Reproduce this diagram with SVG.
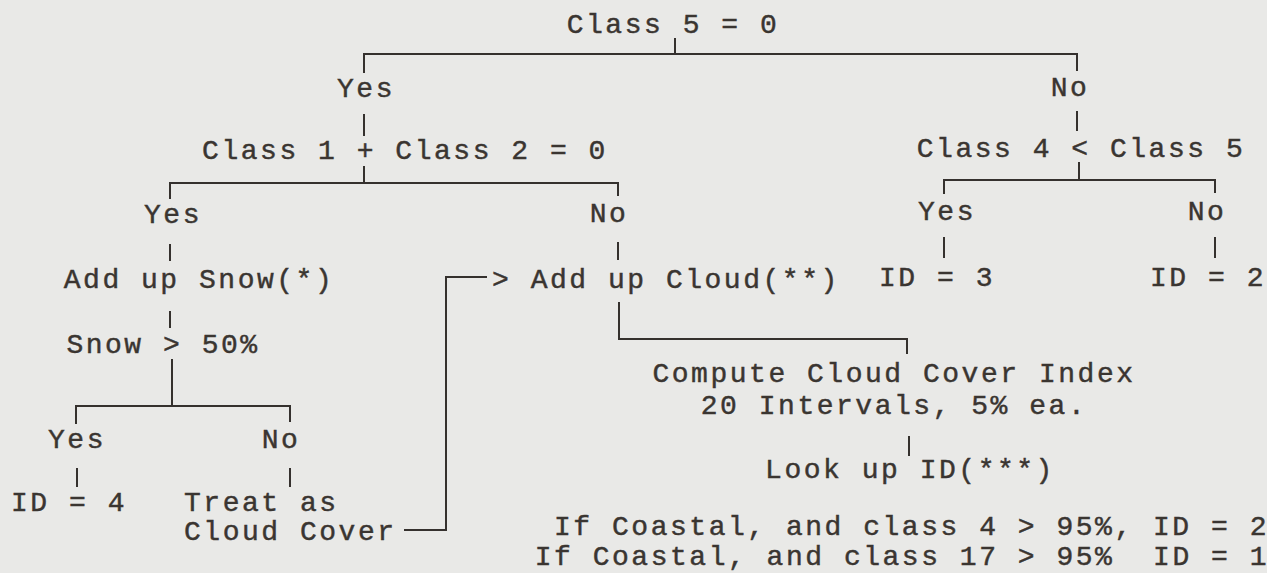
<svg xmlns="http://www.w3.org/2000/svg" width="1267" height="573" viewBox="0 0 1267 573">
  <style>
    .t { font-family: "Liberation Mono", "DejaVu Sans Mono", monospace; font-size: 28px; letter-spacing: 2.52px; white-space: pre; fill: #3a3531; stroke: #3a3531; stroke-width: 0.45px; }
    .m { text-anchor: middle; }
    .e { text-anchor: end; }
    .ln { fill: none; stroke: #35312e; stroke-width: 2; stroke-linecap: square; }
  </style>
  <rect width="1267" height="573" fill="#e9e9e7"/>

  <!-- tree connectors -->
  <g id="connectors" class="ln">
    <path d="M675,39 V54"/>
    <path d="M364,72 V54 H1077 V70"/>
    <path d="M364,115 V135"/>
    <path d="M364,167 V183"/>
    <path d="M1077,112 V130"/>
    <path d="M1079,163 V180"/>
    <path d="M170,198 V183 H618 V195"/>
    <path d="M944,193 V180 H1215 V192"/>
    <path d="M170,245 V260"/>
    <path d="M618,243 V259"/>
    <path d="M944,238 V257"/>
    <path d="M1215,238 V257"/>
    <path d="M170,312 V327"/>
    <path d="M172,360 V406"/>
    <path d="M76,423 V406 H290 V421"/>
    <path d="M77,469 V486"/>
    <path d="M290,469 V486"/>
    <path d="M405,530 H446 V277 H486"/>
    <path d="M619,303 V339 H907 V353"/>
    <path d="M909,437 V455"/>
  </g>

  <g id="n-class5"><text class="t m" x="673" y="33">Class 5 = 0</text></g>
  <g id="n-yes1"><text class="t m" x="366" y="97">Yes</text></g>
  <g id="n-no1"><text class="t m" x="1070" y="96">No</text></g>
  <g id="n-class12"><text class="t m" x="405" y="159">Class 1 + Class 2 = 0</text></g>
  <g id="n-class4"><text class="t m" x="1081" y="157">Class 4 &lt; Class 5</text></g>
  <g id="n-yes2"><text class="t m" x="173" y="223">Yes</text></g>
  <g id="n-no2"><text class="t m" x="609" y="222">No</text></g>
  <g id="n-yes3"><text class="t m" x="947" y="220">Yes</text></g>
  <g id="n-no3"><text class="t m" x="1207" y="220">No</text></g>
  <g id="n-snow"><text class="t m" x="199" y="288">Add up Snow(*)</text></g>
  <g id="n-cloud"><text class="t" x="492" y="288">&gt; Add up Cloud(**)</text></g>
  <g id="n-id3"><text class="t m" x="937" y="286">ID = 3</text></g>
  <g id="n-id2"><text class="t m" x="1208" y="286">ID = 2</text></g>
  <g id="n-snow50"><text class="t m" x="163" y="353">Snow &gt; 50%</text></g>
  <g id="n-compute">
    <text class="t m" x="894" y="382">Compute Cloud Cover Index</text>
    <text class="t m" x="894" y="414">20 Intervals, 5% ea.</text>
  </g>
  <g id="n-yes4"><text class="t m" x="77" y="448">Yes</text></g>
  <g id="n-no4"><text class="t m" x="281" y="448">No</text></g>
  <g id="n-lookup"><text class="t m" x="910" y="478">Look up ID(***)</text></g>
  <g id="n-id4"><text class="t m" x="69" y="511">ID = 4</text></g>
  <g id="n-treat">
    <text class="t" x="184" y="511">Treat as</text>
    <text class="t" x="184" y="540">Cloud Cover</text>
  </g>
  <g id="n-coastal">
    <text class="t e" x="1269" y="535">If Coastal, and class 4 &gt; 95%, ID = 2</text>
    <text class="t e" x="1269" y="565">If Coastal, and class 17 &gt; 95%  ID = 1</text>
  </g>
</svg>
